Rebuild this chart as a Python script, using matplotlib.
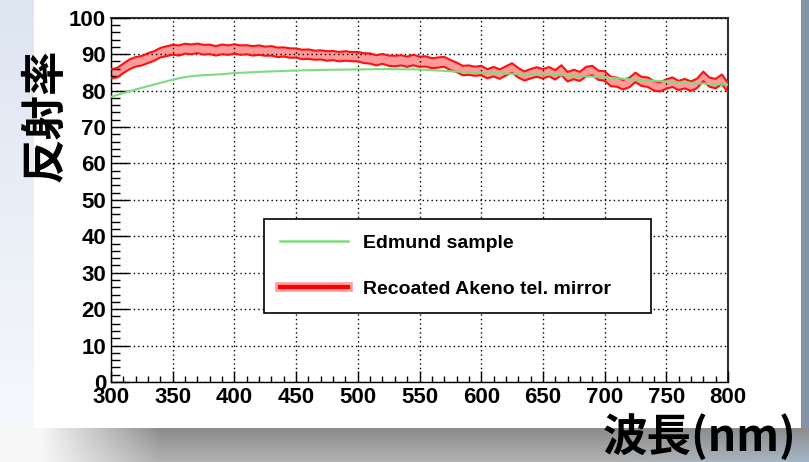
import numpy as np
import matplotlib
matplotlib.use("Agg")
import matplotlib.pyplot as plt
from matplotlib.lines import Line2D
from matplotlib.patches import Rectangle

# ---------------- data ----------------
wavelength = list(range(300, 805, 5))

edmund_wl = [300, 310, 320, 330, 340, 350, 360, 370, 380, 390, 400, 425, 450, 475,
             500, 525, 550, 575, 600, 625, 650, 675, 700, 725, 750, 775, 800]
edmund_refl = [78.3, 79.3, 80.3, 81.2, 82.1, 83.0, 83.7, 84.1, 84.3, 84.5, 84.8, 85.2, 85.5, 85.7,
               85.8, 85.9, 85.8, 85.3, 84.9, 84.6, 84.4, 84.1, 83.6, 83.0, 82.5, 82.0, 81.6]

akeno_mean = [84.6, 84.9, 86.1, 87.2, 87.9, 88.2, 88.9, 89.5, 90.4, 90.8,   # 300-345
              91.2, 91.0, 91.5, 91.3, 91.6, 91.2, 91.3, 90.9, 91.3, 91.1,   # 350-395
              91.4, 91.1, 91.2, 90.9, 91.1, 90.8, 90.9, 90.5, 90.6, 90.3,   # 400-445
              90.3, 89.9, 90.0, 89.7, 89.8, 89.5, 89.6, 89.3, 89.5, 89.3,   # 450-495
              89.3, 88.9, 88.8, 88.3, 88.7, 88.2, 88.1, 88.3, 87.9, 88.4,   # 500-545
              87.9, 88.0, 87.5, 87.7, 87.9, 87.0, 86.4, 85.5, 85.6, 85.3,   # 550-595
              85.5, 84.6, 85.2, 84.5, 85.4, 86.2, 84.9, 84.0, 84.6, 85.1,   # 600-645
              84.6, 85.2, 84.3, 85.6, 83.8, 84.4, 83.9, 85.2, 85.5, 84.2,   # 650-695
              84.0, 82.5, 82.3, 81.6, 82.2, 83.6, 82.5, 82.3, 81.3, 81.0,   # 700-745
              81.8, 82.3, 81.4, 81.9, 81.2, 82.0, 83.9, 82.3, 81.9, 83.1,   # 750-795
              80.8]
akeno_err = [1.25, 1.3, 1.3, 1.35, 1.3, 1.3, 1.35, 1.3, 1.3, 1.35,
             1.35, 1.4, 1.35, 1.35, 1.3, 1.35, 1.3, 1.3, 1.35, 1.3,
             1.3, 1.3, 1.25, 1.3, 1.3, 1.25, 1.3, 1.3, 1.25, 1.3,
             1.25, 1.3, 1.3, 1.25, 1.25, 1.3, 1.25, 1.3, 1.3, 1.25,
             1.3, 1.35, 1.4, 1.4, 1.35, 1.4, 1.45, 1.4, 1.4, 1.45,
             1.4, 1.4, 1.35, 1.4, 1.35, 1.4, 1.3, 1.3, 1.3, 1.25,
             1.3, 1.25, 1.3, 1.3, 1.25, 1.3, 1.3, 1.25, 1.3, 1.3,
             1.3, 1.25, 1.3, 1.35, 1.3, 1.3, 1.25, 1.3, 1.3, 1.25,
             1.3, 1.3, 1.25, 1.3, 1.3, 1.3, 1.25, 1.3, 1.3, 1.25,
             1.3, 1.3, 1.25, 1.3, 1.3, 1.3, 1.3, 1.25, 1.3, 1.3,
             1.3]

xticks = [300, 350, 400, 450, 500, 550, 600, 650, 700, 750, 800]
yticks = [0, 10, 20, 30, 40, 50, 60, 70, 80, 90, 100]
label_edmund = "Edmund sample"
label_akeno = "Recoated Akeno tel. mirror"
ylabel = "反射率"
xlabel = "波長(nm)"

# ---------------- figure & background ----------------
W, H = 809, 462
fig = plt.figure(figsize=(W / 100, H / 100), dpi=100)

bg_ax = fig.add_axes([0, 0, 1, 1], zorder=-10)
bg_ax.set_axis_off()
yy, xx = np.mgrid[0:H, 0:W].astype(float)
img = np.ones((H, W, 3))
t = yy / H
img[..., 0] = 0.87 + 0.10 * t
img[..., 1] = 0.90 + 0.08 * t
img[..., 2] = 0.95 + 0.04 * t
py0 = 428
sh = yy >= py0
d = np.clip((yy - py0) / (H - py0), 0, 1)
fadex = np.clip((xx - 40) / 120.0, 0, 1)
g = 0.97 - (0.42 - 0.15 * d) * fadex
blue = np.clip((xx - 600) / 209.0, 0, 1) * d
r = g - 0.05 * blue
gg = g + 0.02 * blue
b = g + 0.10 * blue
img[..., 0] = np.where(sh, r, img[..., 0])
img[..., 1] = np.where(sh, gg, img[..., 1])
img[..., 2] = np.where(sh, b, img[..., 2])
rs = (xx >= 801) & (yy < py0)
img[..., 0] = np.where(rs, 0.52, img[..., 0])
img[..., 1] = np.where(rs, 0.58, img[..., 1])
img[..., 2] = np.where(rs, 0.65, img[..., 2])
bg_ax.imshow(np.clip(img, 0, 1), extent=[0, 1, 0, 1], aspect="auto", origin="upper")
bg_ax.set_xlim(0, 1)
bg_ax.set_ylim(0, 1)
bg_ax.add_patch(Rectangle((34 / W, 1 - py0 / H), (801 - 34) / W, py0 / H,
                          facecolor="white", edgecolor="none"))

# ---------------- main axes ----------------
left, right = 111 / W, 728 / W
top, bottom = 1 - 17.7 / H, 1 - 382 / H
ax = fig.add_axes([left, bottom, right - left, top - bottom])
ax.set_facecolor("none")

wl = np.array(wavelength)
m = np.array(akeno_mean)
e = np.array(akeno_err)
ax.fill_between(wl, m - e, m + e, facecolor="#ff9a9a", edgecolor="none", zorder=2)
ax.plot(wl, m + e, color="#ff1010", lw=1.5, zorder=3)
ax.plot(wl, m - e, color="#ff1010", lw=1.5, zorder=3)
ax.plot(edmund_wl, edmund_refl, color="#7ddc7d", lw=1.5, zorder=4)

ax.set_xlim(300, 800)
ax.set_ylim(0, 100)
ax.set_xticks(xticks)
ax.set_yticks(yticks)
ax.set_xticks(np.arange(300, 801, 10), minor=True)
ax.set_yticks(np.arange(0, 101, 2), minor=True)
ax.grid(True, which="major", color="black", linestyle=(0, (1, 2.2)), linewidth=1.0)
ax.set_axisbelow(False)

tick_font = dict(family="Liberation Sans", weight="bold", size=16)
ax.set_xticklabels([str(v) for v in xticks], fontdict=tick_font)
ax.set_yticklabels([str(v) for v in yticks], fontdict=tick_font)
ax.tick_params(axis="x", which="major", direction="in", length=8, width=1, pad=3.5)
ax.tick_params(axis="x", which="minor", direction="in", length=4, width=1)
ax.tick_params(axis="y", which="major", direction="in", length=13, width=1, pad=3.5)
ax.tick_params(axis="y", which="minor", direction="in", length=6.5, width=1)
for s in ["left", "bottom"]:
    ax.spines[s].set_color("black")
    ax.spines[s].set_linewidth(1.0)
for s in ["top", "right"]:
    ax.spines[s].set_color("#333333")
    ax.spines[s].set_linewidth(1.5)

# ---------------- legend ----------------
h_green = Line2D([], [], color="#7ddc7d", lw=1.8)
h_red = (Line2D([], [], color="#ffa0a0", lw=7), Line2D([], [], color="#ff0000", lw=3))
leg = ax.legend([h_green, h_red], [label_edmund, label_akeno],
                loc="lower left", bbox_to_anchor=(0.248, 0.189, 0.627, 0.25),
                mode="expand", borderaxespad=0, fancybox=False, framealpha=1,
                edgecolor="black", prop=dict(family="Liberation Sans", weight="bold", size=14),
                handlelength=3.5, handletextpad=0.8, labelspacing=1.45, borderpad=0.8)
leg.get_frame().set_linewidth(1.2)

# ---------------- axis titles ----------------
cjk = ["Noto Sans CJK JP", "DejaVu Sans"]
fig.text(45 / W, 1 - 115 / H, ylabel, rotation=90, ha="center", va="center",
         fontsize=32, family=cjk, weight="bold")
fig.text(700 / W, 1 - 437 / H, xlabel, ha="center", va="center",
         fontsize=32, family=cjk, weight="bold")

fig.savefig("out.png", dpi=100)
